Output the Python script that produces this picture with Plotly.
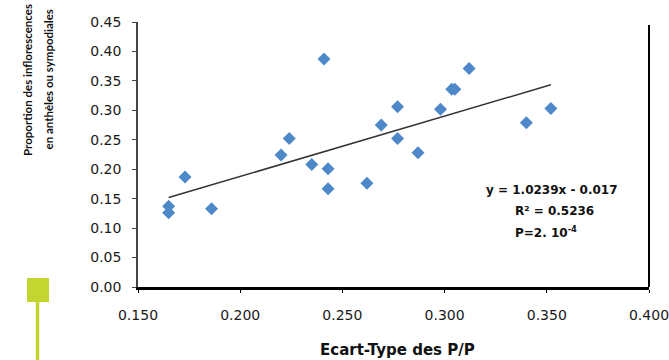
import plotly.graph_objects as go

# Data
ecart_type = [0.165, 0.165, 0.173, 0.186, 0.220, 0.224, 0.235, 0.241, 0.243, 0.243, 0.262,
              0.269, 0.277, 0.277, 0.287, 0.298, 0.3035, 0.305, 0.312, 0.340, 0.352]
proportion = [0.137, 0.126, 0.187, 0.133, 0.224, 0.252, 0.208, 0.387, 0.201, 0.167, 0.176,
              0.275, 0.306, 0.252, 0.228, 0.302, 0.336, 0.336, 0.371, 0.279, 0.303]
slope = 1.0239
intercept = -0.017
x_ticks = [0.150, 0.200, 0.250, 0.300, 0.350, 0.400]
x_tick_labels = ["0.150", "0.200", "0.250", "0.300", "0.350", "0.400"]
y_ticks = [0.00, 0.05, 0.10, 0.15, 0.20, 0.25, 0.30, 0.35, 0.40, 0.45]
y_tick_labels = ["0.00", "0.05", "0.10", "0.15", "0.20", "0.25", "0.30", "0.35", "0.40", "0.45"]
eq_lines = ["y = 1.0239x - 0.017", "R² = 0.5236", "P=2. 10<sup>-4</sup>"]
y_title_lines = ["Proportion des inflorescences", "en anthèles ou sympodiales"]
x_title = "Ecart-Type des P/P"

tx = [min(ecart_type), max(ecart_type)]
ty = [slope * v + intercept for v in tx]

fig = go.Figure()
fig.add_trace(go.Scatter(x=ecart_type, y=proportion, mode="markers",
                         marker=dict(symbol="diamond", size=10, color="#4d88c9"),
                         showlegend=False, hoverinfo="skip"))
fig.add_trace(go.Scatter(x=tx, y=ty, mode="lines",
                         line=dict(color="#333333", width=1.5),
                         showlegend=False, hoverinfo="skip"))

W, H = 669, 360
L, R, T, B = 138, 20, 22, 73
pw, ph = W - L - R, H - T - B

def px(x):
    return (x - L) / pw

def py(y):
    return (H - B - y) / ph

fig.update_layout(
    width=W, height=H,
    margin=dict(l=L, r=R, t=T, b=B, autoexpand=False),
    plot_bgcolor="white", paper_bgcolor="white",
    font=dict(family="DejaVu Sans", size=14, color="#1a1a1a"),
    xaxis=dict(range=[0.15, 0.40], tickvals=x_ticks, ticktext=x_tick_labels,
               showgrid=False, zeroline=False, showline=True, linecolor="black", linewidth=3,
               ticks="outside", ticklen=3, tickcolor="black", tickwidth=1, automargin=False,
               ticklabelstandoff=10, ticklabeloverflow="allow"),
    yaxis=dict(range=[0, 0.45], tickvals=y_ticks, ticktext=y_tick_labels,
               showgrid=False, zeroline=False, showline=True, linecolor="#444444", linewidth=1.5,
               ticks="outside", ticklen=4, tickcolor="#444444", tickwidth=1, automargin=False,
               ticklabelstandoff=8, ticklabeloverflow="allow"),
)

# right border of plot area
fig.add_shape(type="line", xref="paper", yref="paper", x0=1, x1=1, y0=0, y1=py(25),
              line=dict(color="black", width=2))
# green marker at bottom-left
fig.add_shape(type="rect", xref="paper", yref="paper", x0=px(27), x1=px(49), y0=py(302), y1=py(278),
              line=dict(width=0), fillcolor="#c2d531")
fig.add_shape(type="line", xref="paper", yref="paper", x0=px(37.5), x1=px(37.5), y0=py(360), y1=py(302),
              line=dict(color="#c2d531", width=3.5))

# y title (two rotated lines)
for txt, cx in zip(y_title_lines, [28, 48.5]):
    fig.add_annotation(text="<b>" + txt + "</b>", xref="paper", yref="paper",
                       x=px(cx), y=py(80), xanchor="center", yanchor="middle",
                       textangle=-90, showarrow=False,
                       font=dict(family="Lato", size=11.5, color="#111111"))
# x title
fig.add_annotation(text="<b>" + x_title + "</b>", xref="paper", yref="paper",
                   x=px(397), y=py(350), xanchor="center", yanchor="middle", showarrow=False,
                   font=dict(family="DejaVu Sans", size=15, color="#111111"))
# equation text
for txt, lx, cy in zip(eq_lines, [484, 513, 513], [190, 211, 232]):
    fig.add_annotation(text="<b>" + txt + "</b>", xref="paper", yref="paper",
                       x=px(lx), y=py(cy), xanchor="left", yanchor="middle", showarrow=False,
                       font=dict(family="DejaVu Sans", size=12, color="#111111"))

fig.write_html("out.html")
